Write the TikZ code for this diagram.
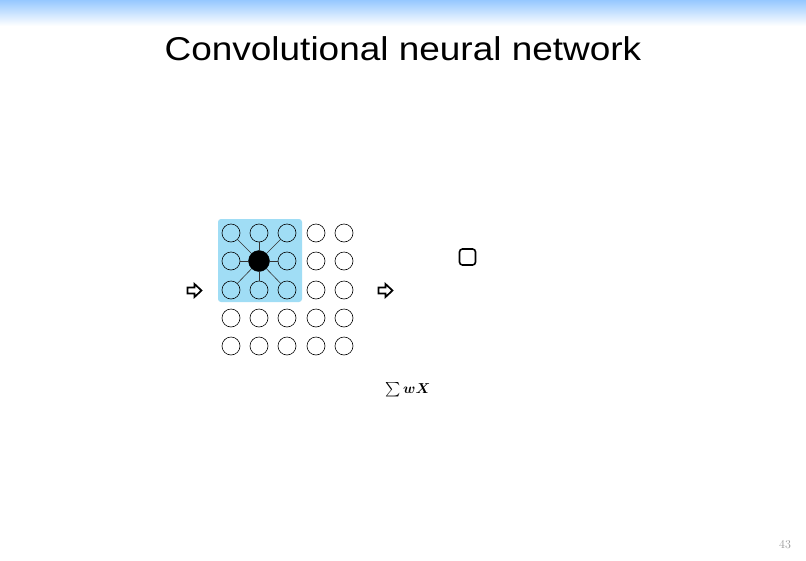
\documentclass[tikz,border=0pt]{standalone}
\usepackage{fontspec}
\usepackage{amsmath,bm}
\newfontfamily\arialfont{Liberation Sans}
\definecolor{bandblue}{RGB}{150,200,255}
\definecolor{selblue}{RGB}{160,221,245}
\definecolor{pagegray}{RGB}{150,150,150}
\tikzset{
  cell/.style={circle,draw=black,line width=0.6pt,minimum size=18pt,inner sep=0pt,fill=white},
  cellT/.style={cell,fill=none},
  hub/.style={circle,fill=black,draw=black,minimum size=21pt,inner sep=0pt},
  link/.style={draw=black!80,line width=0.6pt},
  blockarrow/.style={draw=black,line width=1.7pt,fill=white,line join=miter}
}
\begin{document}
\begin{tikzpicture}[x=1pt,y=-1pt]
\useasboundingbox (0,0) rectangle (806,560);
\fill[white] (0,0) rectangle (806,560);
\shade[top color=bandblue,bottom color=white] (0,0) rectangle (806,26);
\node[font=\arialfont\fontsize{33}{36}\selectfont,anchor=base] (title) at (403,60) {\scalebox{1.12}[1]{Convolutional neural network}};
% blue selection
\fill[selblue,rounded corners=3pt] (218,219) rectangle (302,302);
% grid
\foreach \i/\x in {1/231,2/259,3/287,4/316,5/344}{
  \foreach \j/\y in {1/233,2/261,3/290,4/318,5/346}{
    \node[cellT] (c\i\j) at (\x,\y) {};
  }
}
\node[hub] (h) at (259,261) {};
\foreach \n in {c11,c21,c31,c12,c32,c13,c23,c33}{
  \draw[link] (h) -- (\n);
}
% arrows
\foreach \nm/\cx in {a1/194.5,a2/385.5}{
  \coordinate (\nm) at (\cx,290.5);
  \draw[blockarrow,shift={(\nm)}] (-7,-3) -- (0,-3) -- (0,-6.5) -- (7,0) -- (0,6.5) -- (0,3) -- (-7,3) -- cycle;
}
% small rounded square
\node[draw=black,line width=1.6pt,rounded corners=3pt,minimum size=16pt,inner sep=0pt] (sq) at (467.5,257) {};
% sum wx
\node[font=\fontsize{14}{16}\selectfont] (sum) at (408,390) {$\textstyle\sum\bm{w}\bm{X}$};
\node[font=\fontsize{12}{14}\selectfont,text=pagegray] (pg) at (785,545) {43};
\end{tikzpicture}
\end{document}
